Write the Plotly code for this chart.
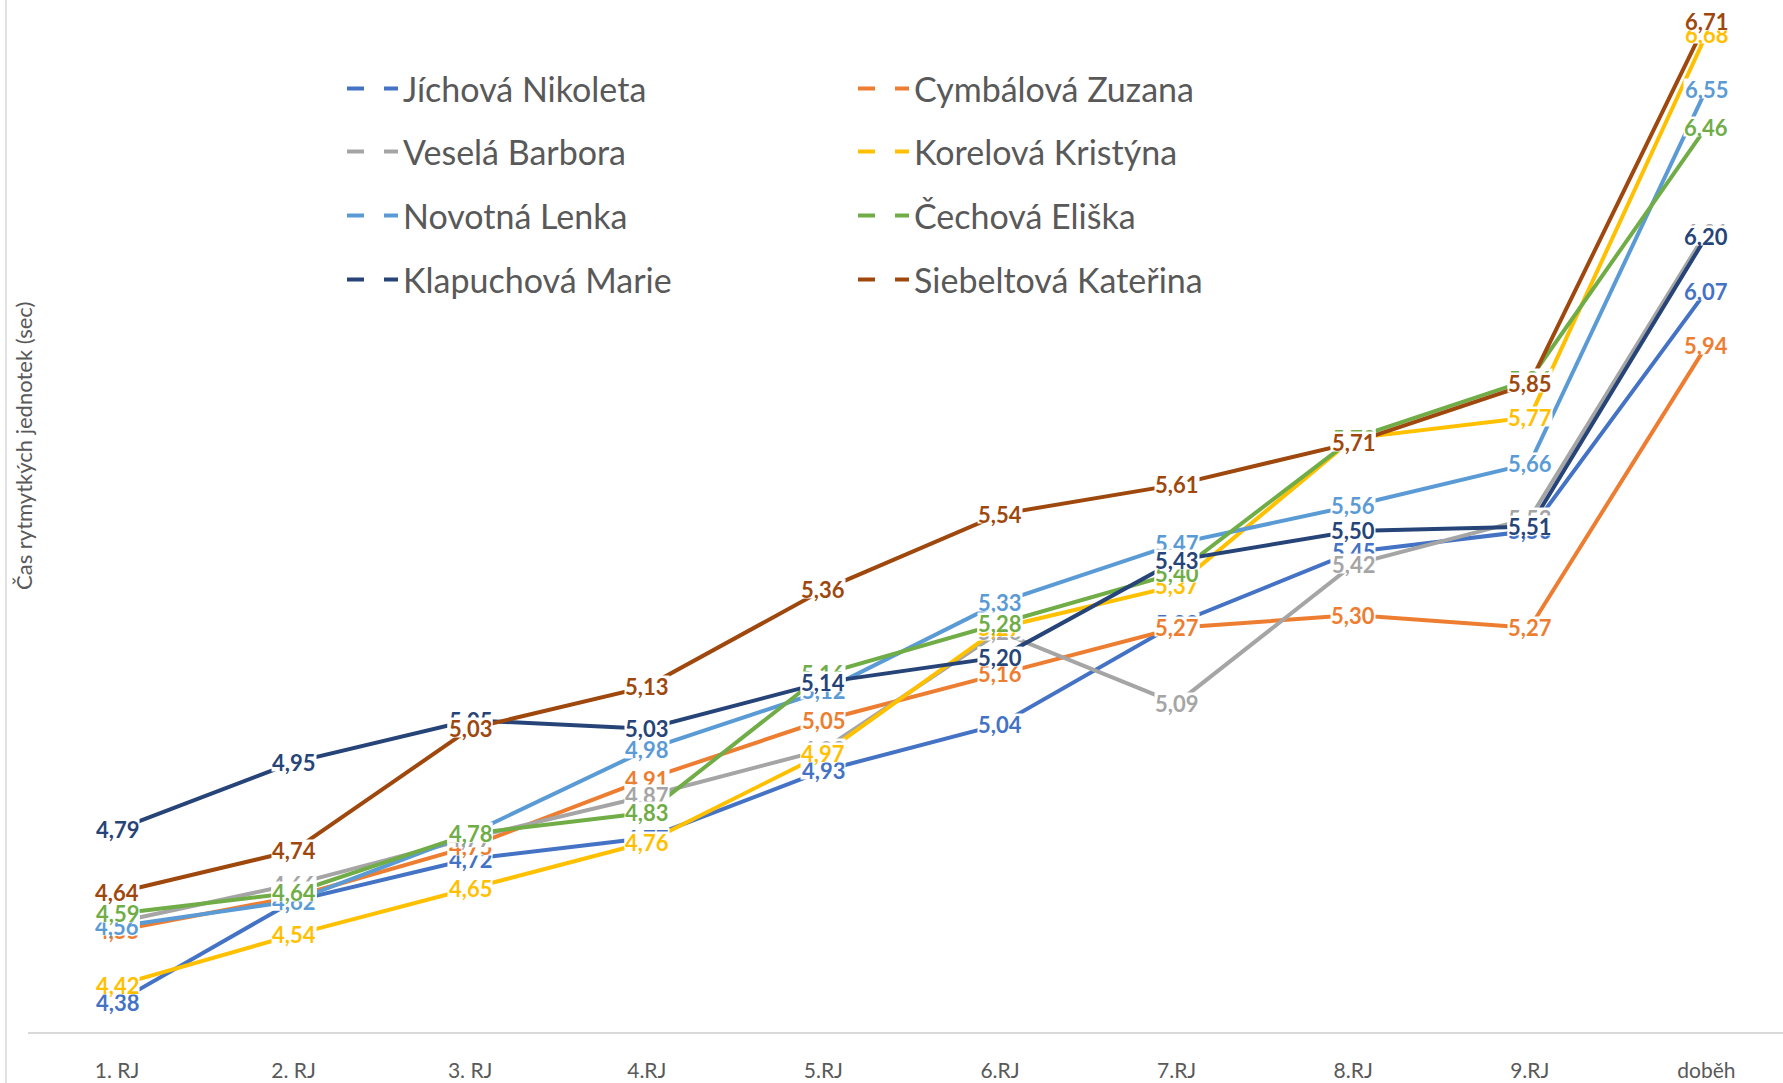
import plotly.graph_objects as go

categories = ["1. RJ", "2. RJ", "3. RJ", "4.RJ", "5.RJ", "6.RJ", "7.RJ", "8.RJ", "9.RJ", "doběh"]

names = ["Jíchová Nikoleta", "Cymbálová Zuzana", "Veselá Barbora", "Korelová Kristýna",
         "Novotná Lenka", "Čechová Eliška", "Klapuchová Marie", "Siebeltová Kateřina"]

jichova    = [4.38, 4.62, 4.72, 4.77, 4.93, 5.04, 5.28, 5.45, 5.50, 6.07]
cymbalova  = [4.55, 4.63, 4.75, 4.91, 5.05, 5.16, 5.27, 5.30, 5.27, 5.94]
vesela     = [4.57, 4.66, 4.77, 4.87, 4.98, 5.26, 5.09, 5.42, 5.53, 6.21]
korelova   = [4.42, 4.54, 4.65, 4.76, 4.97, 5.27, 5.37, 5.72, 5.77, 6.68]
novotna    = [4.56, 4.62, 4.78, 4.98, 5.12, 5.33, 5.47, 5.56, 5.66, 6.55]
cechova    = [4.59, 4.64, 4.78, 4.83, 5.16, 5.28, 5.40, 5.72, 5.86, 6.46]
klapuchova = [4.79, 4.95, 5.05, 5.03, 5.14, 5.20, 5.43, 5.50, 5.51, 6.20]
siebeltova = [4.64, 4.74, 5.03, 5.13, 5.36, 5.54, 5.61, 5.71, 5.85, 6.71]

series = [jichova, cymbalova, vesela, korelova, novotna, cechova, klapuchova, siebeltova]
colors = ["#4472C4", "#ED7D31", "#A5A5A5", "#FFC000", "#5B9BD5", "#70AD47", "#264478", "#9E480E"]

FONT = "Lato, Noto Sans, sans-serif"
W, H = 1783, 1083
ML, MB = 28, 51
PW, PH = W - ML, H - MB

fig = go.Figure()

for name, vals, col in zip(names, series, colors):
    fig.add_trace(go.Scatter(x=categories, y=vals, mode="lines", name=name,
                             line=dict(color=col, width=4), showlegend=False,
                             hoverinfo="skip"))

# legend entries (two columns, four rows)
legend_layout = {}
col_x = [347, 858]
row_y = [89, 152, 216, 280]
for i, (name, col) in enumerate(zip(names, colors)):
    key = "legend" if i == 0 else f"legend{i+1}"
    fig.add_trace(go.Scatter(x=[None], y=[None], mode="lines", name=name,
                             line=dict(color=col, width=4, dash="17px,20px"),
                             legend=key))
    cx = col_x[i % 2]
    ry = row_y[i // 2]
    legend_layout[key] = dict(
        x=(cx - 5 - ML) / PW, y=1 - ry / PH, xanchor="left", yanchor="middle",
        xref="paper", yref="paper", bgcolor="rgba(0,0,0,0)",
        font=dict(family=FONT, size=34, color="#595959"),
        itemwidth=51, itemclick=False, itemdoubleclick=False,
    )

annotations = []
for vals, col in zip(series, colors):
    for c, v in zip(categories, vals):
        # white label background (tight box, like the spreadsheet label fill)
        annotations.append(dict(
            x=c, y=v, xref="x", yref="y", showarrow=False, text=" ",
            width=44, height=19, bgcolor="white", borderpad=0,
            xanchor="center", yanchor="middle", yshift=1,
        ))
        annotations.append(dict(
            x=c, y=v, xref="x", yref="y", showarrow=False,
            text=f"{v:.2f}".replace(".", ","),
            font=dict(family=FONT, size=22, color=col, weight="bold"),
            xanchor="center", yanchor="middle",
        ))

annotations.append(dict(
    x=(23 - ML) / PW, y=1 - 446 / PH, xref="paper", yref="paper", showarrow=False,
    text="Čas rytmytkých jednotek (sec)", textangle=-90,
    font=dict(family=FONT, size=22, color="#595959"),
    xanchor="center", yanchor="middle",
))

fig.update_layout(
    width=W, height=H,
    margin=dict(l=ML, r=0, t=0, b=MB),
    paper_bgcolor="white", plot_bgcolor="white",
    annotations=annotations,
    shapes=[dict(type="line", xref="paper", yref="paper",
                 x0=(6 - ML) / PW, x1=(6 - ML) / PW, y0=-MB / PH, y1=1,
                 line=dict(color="#D9D9D9", width=1.5))],
    **legend_layout,
)

fig.update_xaxes(
    type="category", range=[-0.504, 9.434],
    showline=True, linecolor="#D9D9D9", linewidth=2, showgrid=False, zeroline=False,
    ticks="", ticklabelstandoff=19,
    tickfont=dict(family=FONT, size=21, color="#595959"),
)
fig.update_yaxes(
    range=[4.309, 6.762], showticklabels=False, showgrid=False, zeroline=False,
    showline=False, ticks="",
)

fig.write_html("out.html", config={"displayModeBar": False},
               post_script="document.body.style.margin='0';document.body.style.overflow='hidden';")
